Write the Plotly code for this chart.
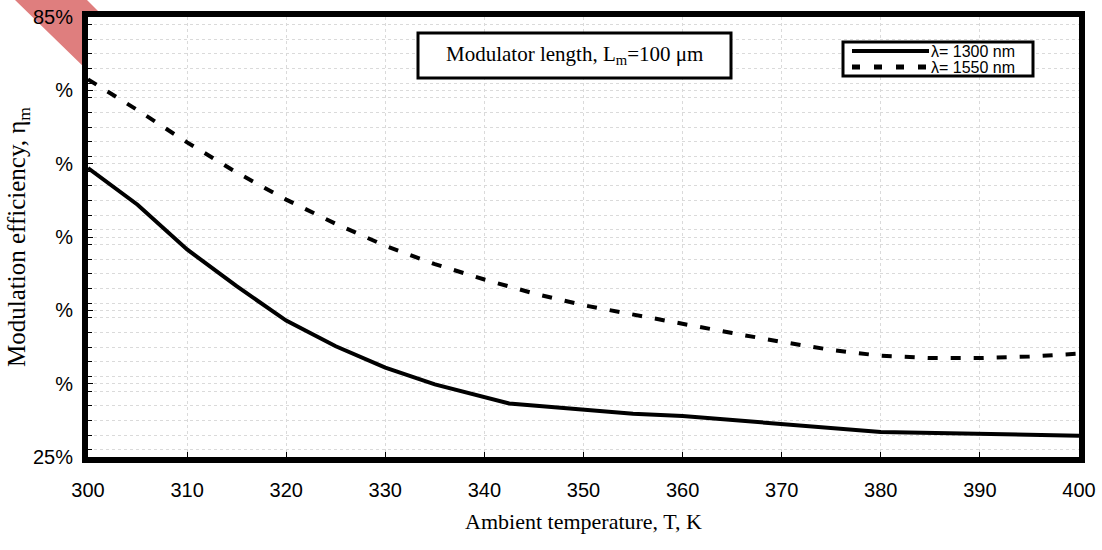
import plotly.graph_objects as go

# ---- data ----
temp_1300 = [300, 305, 310, 315, 320, 325, 330, 335, 342.5, 355, 360, 380, 400]
eff_1300 = [64.4, 59.4, 53.3, 48.3, 43.6, 40.1, 37.2, 34.9, 32.3, 30.9, 30.6, 28.4, 27.9]

temp_1550 = [300, 305, 310, 315, 320, 325, 330, 335, 340, 345, 350, 355, 360, 365,
             370, 375, 380, 385, 390, 395, 400]
eff_1550 = [76.5, 72.3, 67.9, 63.8, 60.1, 56.8, 53.8, 51.3, 49.2, 47.3, 45.7, 44.4, 43.2, 41.9,
            40.7, 39.6, 38.8, 38.5, 38.5, 38.7, 39.1]

x_ticks = [300, 310, 320, 330, 340, 350, 360, 370, 380, 390, 400]
y_ticks = [25, 35, 45, 55, 65, 75, 85]
y_ticktext = ["25%", "%", "%", "%", "%", "%", "85%"]

series_names = ["λ= 1300 nm", "λ= 1550 nm"]
note_text = "Modulator length, L<sub>m</sub>=100 μm"

# ---- layout geometry (pixels) ----
W, H = 1102, 550
L, R, T, B = 88, 23, 17, 93
pw, ph = W - L - R, H - T - B


def px(x):
    return (x - L) / pw


def py(y):
    return (H - B - y) / ph


fig = go.Figure()
fig.add_trace(go.Scatter(x=temp_1300, y=eff_1300, mode="lines", name=series_names[0],
                         line=dict(color="black", width=4), showlegend=False))
fig.add_trace(go.Scatter(x=temp_1550, y=eff_1550, mode="lines", name=series_names[1],
                         line=dict(color="black", width=4, dash="10px,13px"), showlegend=False))

grid = "#dadada"
fig.update_xaxes(range=[300, 400], tickvals=x_ticks, showline=True, linewidth=6, linecolor="black",
                 mirror=True, ticks="inside", ticklen=5, tickcolor="black", tickwidth=1,
                 showgrid=True, gridcolor=grid, griddash="dot", gridwidth=1, zeroline=False,
                 ticklabelstandoff=10, automargin=False,
                 tickfont=dict(family="Liberation Sans, Arial", size=20, color="black"),
                 title=dict(text="Ambient temperature, T, K", standoff=16,
                            font=dict(family="Liberation Serif, Times New Roman", size=22, color="black")))
fig.update_yaxes(range=[25, 85], tickvals=y_ticks, ticktext=y_ticktext, showline=True, linewidth=6,
                 linecolor="black", mirror=True, ticks="inside", ticklen=5, tickcolor="black", tickwidth=1,
                 showgrid=True, gridcolor=grid, griddash="dot", gridwidth=1, zeroline=False,
                 ticklabelstandoff=5, automargin=False,
                 minor=dict(dtick=2, showgrid=True, gridcolor=grid, griddash="dot", gridwidth=1,
                            ticks="inside", ticklen=4, tickcolor="black"),
                 tickfont=dict(family="Liberation Sans, Arial", size=20, color="black"),
                 title=dict(text="Modulation efficiency, η<sub>m</sub>", standoff=2,
                            font=dict(family="Liberation Serif, Times New Roman", size=25, color="black")))

shapes = []
# red diagonal band (outside the plot area)
pts = [(15, 0), (87, 0), (104, 17), (88, 17), (88, 71)]
path = "M " + " L ".join(f"{px(a):.5f},{py(b):.5f}" for a, b in pts) + " Z"
shapes.append(dict(type="path", xref="paper", yref="paper", path=path,
                   fillcolor="#DF7E7E", line=dict(width=0), layer="below"))

# annotation box
shapes.append(dict(type="rect", xref="paper", yref="paper", x0=px(418), x1=px(731), y0=py(78), y1=py(33),
                   line=dict(color="black", width=3), fillcolor="white", layer="above"))
# legend box
shapes.append(dict(type="rect", xref="paper", yref="paper", x0=px(843), x1=px(1033), y0=py(76), y1=py(42),
                   line=dict(color="black", width=3), fillcolor="white", layer="above"))
# legend samples
shapes.append(dict(type="line", xref="paper", yref="paper", x0=px(852), x1=px(929), y0=py(51), y1=py(51),
                   line=dict(color="black", width=4), layer="above"))
shapes.append(dict(type="line", xref="paper", yref="paper", x0=px(852), x1=px(929), y0=py(67), y1=py(67),
                   line=dict(color="black", width=5, dash="8px,14px"), layer="above"))
fig.update_layout(shapes=shapes)

annos = [
    dict(text=note_text, x=px(574), y=py(55), xref="paper", yref="paper", showarrow=False,
         xanchor="center", yanchor="middle",
         font=dict(family="Liberation Serif, Times New Roman", size=21, color="black")),
    dict(text=series_names[0], x=px(929), y=py(51), xref="paper", yref="paper", showarrow=False,
         xanchor="left", yanchor="middle",
         font=dict(family="Liberation Sans, Arial", size=16, color="black")),
    dict(text=series_names[1], x=px(929), y=py(67), xref="paper", yref="paper", showarrow=False,
         xanchor="left", yanchor="middle",
         font=dict(family="Liberation Sans, Arial", size=16, color="black")),
]
fig.update_layout(annotations=annos)

fig.update_layout(width=W, height=H, margin=dict(l=L, r=R, t=T, b=B, pad=0, autoexpand=False),
                  paper_bgcolor="white", plot_bgcolor="white", showlegend=False)

fig.write_html("out.html")
